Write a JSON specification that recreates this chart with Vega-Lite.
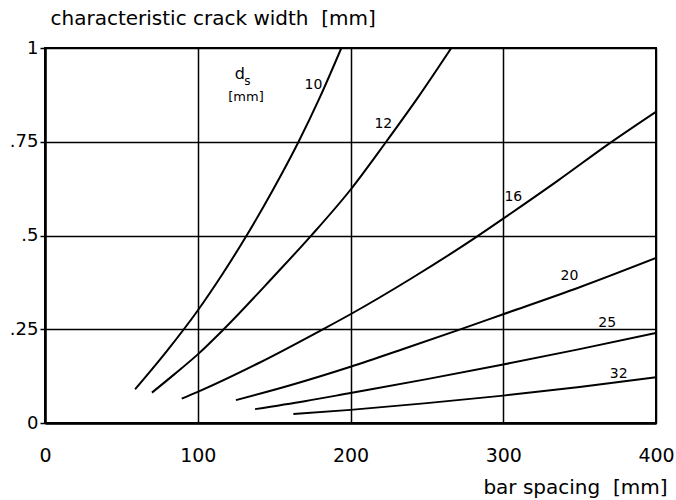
{
  "$schema": "https://vega.github.io/schema/vega-lite/v6.json",
  "width": 611,
  "height": 375,
  "autosize": "none",
  "padding": {"left": 45, "top": 48, "right": 20, "bottom": 77},
  "background": "white",
  "config": {
    "font": "DejaVu Sans",
    "view": {"stroke": "black", "strokeWidth": 2}
  },
  "datasets": {
    "curves": [
      {"ds": 10, "s": 59, "w": 0.09}, {"ds": 10, "s": 80, "w": 0.193}, {"ds": 10, "s": 100, "w": 0.30}, {"ds": 10, "s": 116, "w": 0.396}, {"ds": 10, "s": 132, "w": 0.5}, {"ds": 10, "s": 149, "w": 0.62}, {"ds": 10, "s": 166, "w": 0.75}, {"ds": 10, "s": 180, "w": 0.869}, {"ds": 10, "s": 194, "w": 1.0},
      {"ds": 12, "s": 70, "w": 0.081}, {"ds": 12, "s": 85, "w": 0.131}, {"ds": 12, "s": 100, "w": 0.183}, {"ds": 12, "s": 117, "w": 0.25}, {"ds": 12, "s": 150, "w": 0.392}, {"ds": 12, "s": 175, "w": 0.503}, {"ds": 12, "s": 200, "w": 0.622}, {"ds": 12, "s": 223, "w": 0.748}, {"ds": 12, "s": 245, "w": 0.873}, {"ds": 12, "s": 266, "w": 1.0},
      {"ds": 16, "s": 89.5, "w": 0.065}, {"ds": 16, "s": 100, "w": 0.083}, {"ds": 16, "s": 140, "w": 0.16}, {"ds": 16, "s": 182, "w": 0.25}, {"ds": 16, "s": 200, "w": 0.29}, {"ds": 16, "s": 240, "w": 0.386}, {"ds": 16, "s": 282, "w": 0.495}, {"ds": 16, "s": 300, "w": 0.545}, {"ds": 16, "s": 336, "w": 0.647}, {"ds": 16, "s": 370, "w": 0.747}, {"ds": 16, "s": 400, "w": 0.83},
      {"ds": 20, "s": 125, "w": 0.061}, {"ds": 20, "s": 160, "w": 0.1}, {"ds": 20, "s": 200, "w": 0.15}, {"ds": 20, "s": 235, "w": 0.198}, {"ds": 20, "s": 270, "w": 0.247}, {"ds": 20, "s": 300, "w": 0.29}, {"ds": 20, "s": 350, "w": 0.362}, {"ds": 20, "s": 400, "w": 0.44},
      {"ds": 25, "s": 137.5, "w": 0.037}, {"ds": 25, "s": 170, "w": 0.058}, {"ds": 25, "s": 200, "w": 0.08}, {"ds": 25, "s": 250, "w": 0.117}, {"ds": 25, "s": 300, "w": 0.156}, {"ds": 25, "s": 350, "w": 0.197}, {"ds": 25, "s": 400, "w": 0.24},
      {"ds": 32, "s": 162.6, "w": 0.024}, {"ds": 32, "s": 200, "w": 0.035}, {"ds": 32, "s": 250, "w": 0.053}, {"ds": 32, "s": 300, "w": 0.073}, {"ds": 32, "s": 350, "w": 0.096}, {"ds": 32, "s": 400, "w": 0.122}
    ],
    "labels": [
      {"t": "10", "s": 175.7, "w": 0.901},
      {"t": "12", "s": 221.5, "w": 0.797},
      {"t": "16", "s": 306.6, "w": 0.603},
      {"t": "20", "s": 343.3, "w": 0.393},
      {"t": "25", "s": 368.1, "w": 0.267},
      {"t": "32", "s": 375.6, "w": 0.131}
    ],
    "head": [
      {"t": "d", "s": 127.5, "w": 0.93, "size": 16},
      {"t": "s", "s": 132.5, "w": 0.912, "size": 12},
      {"t": "[mm]", "s": 131.6, "w": 0.869, "size": 13}
    ]
  },
  "layer": [
    {
      "data": {"name": "curves"},
      "mark": {"type": "line", "color": "black", "strokeWidth": 2, "interpolate": "monotone", "clip": true},
      "encoding": {
        "x": {
          "field": "s", "type": "quantitative",
          "scale": {"domain": [0, 400], "nice": false, "zero": false},
          "axis": {
            "values": [0, 100, 200, 300, 400],
            "title": "bar spacing\u00a0\u00a0[mm]",
            "titleFont": "DejaVu Sans", "titleFontSize": 20, "titleFontWeight": "normal", "titleColor": "black",
            "titleAlign": "right", "titleAnchor": null, "titleX": 622, "titleY": 64, "titleBaseline": "middle",
            "labelFontSize": 19, "labelColor": "black", "labelPadding": 23, "labelFlush": false,
            "ticks": false,
            "domainColor": "black", "domainWidth": 2.5,
            "grid": true, "gridColor": "black", "gridOpacity": 1, "gridWidth": 1.5
          }
        },
        "y": {
          "field": "w", "type": "quantitative",
          "scale": {"domain": [0, 1], "nice": false},
          "axis": {
            "values": [0, 0.25, 0.5, 0.75, 1],
            "labelExpr": "datum.value == 0 ? '0' : datum.value == 1 ? '1' : datum.value == 0.25 ? '.25' : datum.value == 0.5 ? '.5' : '.75'",
            "title": "characteristic crack width\u00a0\u00a0[mm]",
            "titleFont": "DejaVu Sans", "titleFontSize": 20, "titleFontWeight": "normal", "titleColor": "black",
            "titleAngle": 0, "titleAlign": "left", "titleAnchor": null, "titleX": 5, "titleY": -30, "titleBaseline": "middle",
            "labelFontSize": 18, "labelColor": "black", "labelPadding": 2, "labelFlush": false,
            "ticks": true, "tickSize": 5, "tickColor": "black", "tickWidth": 1.5,
            "domainColor": "black", "domainWidth": 2.5,
            "grid": true, "gridColor": "black", "gridOpacity": 1, "gridWidth": 1.5
          }
        },
        "detail": {"field": "ds", "type": "nominal"}
      }
    },
    {
      "data": {"name": "labels"},
      "mark": {"type": "text", "color": "black", "fontSize": 14, "align": "center", "baseline": "middle"},
      "encoding": {
        "x": {"field": "s", "type": "quantitative"},
        "y": {"field": "w", "type": "quantitative"},
        "text": {"field": "t"}
      }
    },
    {
      "data": {"name": "head"},
      "mark": {"type": "text", "color": "black", "align": "center", "baseline": "middle"},
      "encoding": {
        "x": {"field": "s", "type": "quantitative"},
        "y": {"field": "w", "type": "quantitative"},
        "text": {"field": "t"},
        "size": {"field": "size", "type": "quantitative", "scale": null}
      }
    }
  ]
}
